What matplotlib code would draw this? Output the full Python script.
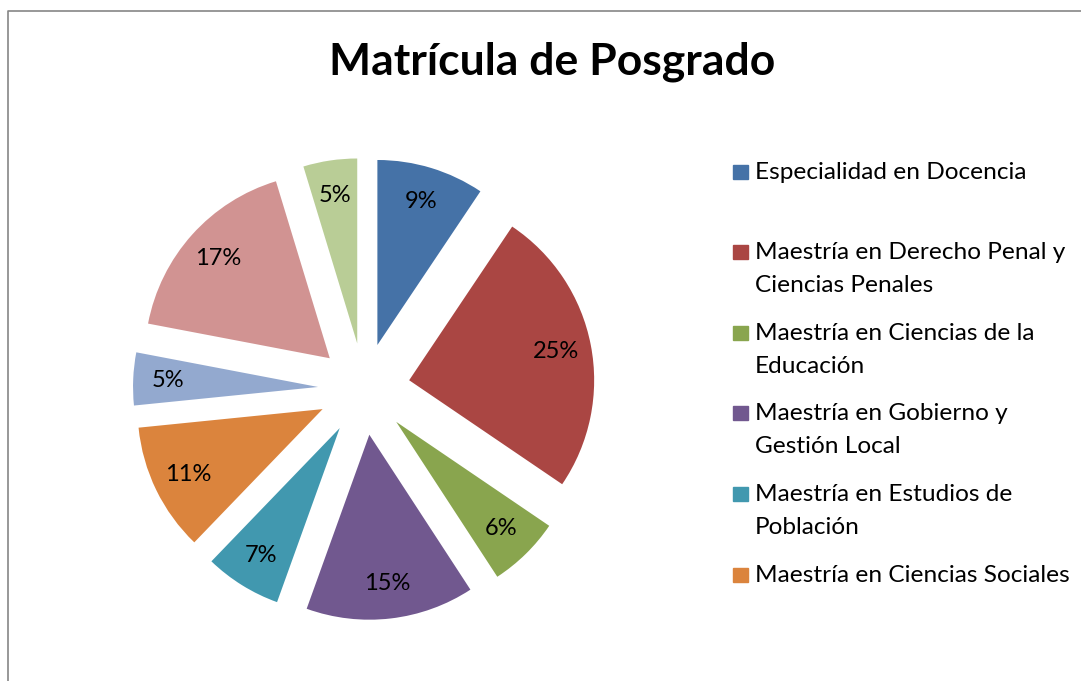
import matplotlib
matplotlib.use("Agg")
import matplotlib.pyplot as plt
from matplotlib.patches import Rectangle

# datos: matricula de posgrado por programa (porcentaje, leido de los
# angulos de cada sector; las etiquetas muestran el valor redondeado)
valores = [9.4, 25.1, 6.3, 14.7, 6.7, 11.2, 4.6, 17.3, 4.7]
colores = ["#4572A7", "#AA4643", "#89A54E", "#71588F", "#4198AF",
           "#DB843D", "#93A9CF", "#D19392", "#B9CD96"]
leyenda = [
    "Especialidad en Docencia",
    "Maestría en Derecho Penal y\nCiencias Penales",
    "Maestría en Ciencias de la\nEducación",
    "Maestría en Gobierno y\nGestión Local",
    "Maestría en Estudios de\nPoblación",
    "Maestría en Ciencias Sociales",
]
leyenda_y = [172, 252, 333, 413, 494, 575]

W, H = 1081, 681
plt.rcParams["font.family"] = ["Lato", "DejaVu Sans"]

fig = plt.figure(figsize=(W / 100, H / 100), dpi=100)
ax = fig.add_axes([0, 0, 1, 1])

wedges, texts, autotexts = ax.pie(
    valores, colors=colores, startangle=90, counterclock=False,
    center=(364, H - 389), radius=185, explode=[46] * len(valores),
    autopct="%1.0f%%", pctdistance=0.81, frame=True,
    textprops={"fontsize": 17, "color": "black"},
)
ax.set_xlim(0, W)
ax.set_ylim(0, H)
ax.set_aspect("auto")
ax.axis("off")

# titulo
ax.text(552, H - 62, "Matrícula de Posgrado", ha="center", va="center",
        fontsize=32, fontweight="bold")

# leyenda (solo las entradas visibles)
for lab, c, y in zip(leyenda, colores, leyenda_y):
    ax.add_patch(Rectangle((733, H - y - 7), 15, 14, color=c))
    ax.text(755, H - y + 10, lab, ha="left", va="top", fontsize=17.6,
            linespacing=1.72)

# borde del area del grafico
ax.plot([8, 8, W + 5], [-5, H - 10.5, H - 10.5], color="#868686", lw=1.2)

fig.savefig("out.png", dpi=100)
